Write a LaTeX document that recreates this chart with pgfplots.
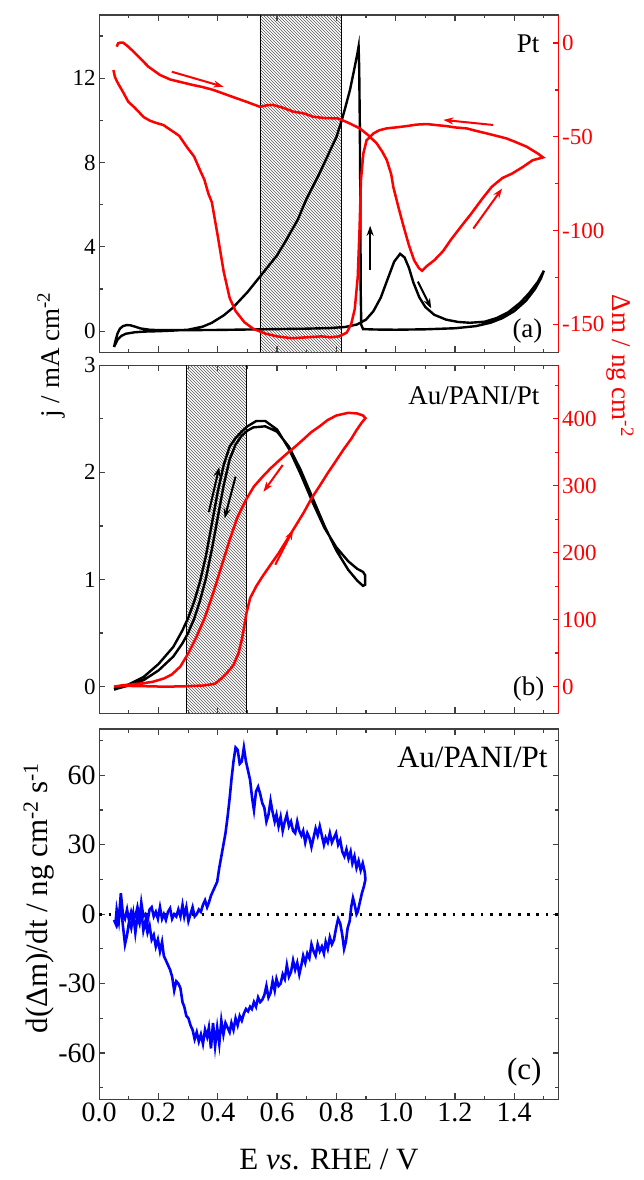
\documentclass[border=0pt]{standalone}
\usepackage{fontspec}
\setmainfont{Liberation Serif}
\usepackage{pgfplots}
\pgfplotsset{compat=1.18}
\usetikzlibrary{patterns,arrows.meta}

\pgfplotstableread{
x y
0.050 -0.75
0.055 -0.45
0.062 -0.10
0.070 0.12
0.080 0.24
0.092 0.29
0.105 0.28
0.120 0.22
0.140 0.13
0.170 0.07
0.200 0.05
0.300 0.05
0.400 0.06
0.500 0.08
0.600 0.10
0.700 0.12
0.780 0.15
0.830 0.20
0.870 0.32
0.900 0.55
0.925 0.95
0.950 1.60
0.975 2.55
0.995 3.30
1.015 3.67
1.030 3.50
1.045 3.00
1.060 2.30
1.080 1.60
1.100 1.15
1.130 0.78
1.170 0.55
1.210 0.44
1.250 0.40
1.300 0.45
1.340 0.62
1.380 0.90
1.420 1.35
1.450 1.80
1.480 2.35
1.500 2.87
1.490 2.50
1.470 2.00
1.440 1.45
1.400 0.95
1.360 0.62
1.320 0.40
1.270 0.24
1.200 0.14
1.100 0.09
1.000 0.07
0.930 0.08
0.890 0.10
0.884 0.30
0.882 2.00
0.881 6.00
0.879 10.0
0.877 12.5
0.875 13.5
0.870 13.1
0.860 12.4
0.846 11.45
0.830 10.6
0.818 10.0
0.800 9.20
0.770 8.30
0.740 7.40
0.700 6.30
0.670 5.30
0.630 4.30
0.600 3.60
0.560 2.90
0.520 2.20
0.500 1.85
0.450 1.10
0.420 0.75
0.380 0.40
0.350 0.22
0.300 0.07
0.250 0.03
0.200 0.00
0.150 -0.02
0.120 -0.05
0.090 -0.12
0.075 -0.22
0.062 -0.40
0.050 -0.75
}\ptj

\pgfplotstableread{
x y
0.059 -1.9
0.064 -0.1
0.072 0.3
0.081 0.2
0.095 -1.5
0.110 -3.7
0.138 -8.1
0.166 -12.6
0.205 -17.0
0.239 -19.4
0.280 -21.0
0.317 -22.4
0.350 -23.5
0.385 -25.0
0.420 -27.0
0.464 -29.5
0.500 -31.5
0.542 -34.0
0.565 -33.2
0.587 -33.0
0.620 -34.5
0.655 -36.6
0.690 -37.5
0.722 -39.3
0.760 -40.0
0.806 -40.2
0.840 -42.5
0.879 -45.5
0.910 -49.5
0.936 -53.5
0.955 -58.0
0.970 -62.4
0.985 -70.0
0.992 -76.7
1.010 -88.0
1.027 -98.0
1.045 -108.0
1.062 -115.8
1.078 -120.0
1.089 -121.5
1.105 -119.0
1.131 -115.8
1.160 -111.0
1.186 -105.0
1.220 -98.0
1.255 -91.0
1.290 -83.5
1.324 -76.7
1.360 -72.0
1.393 -69.6
1.430 -66.0
1.462 -62.5
1.497 -61.0
1.480 -59.0
1.442 -55.3
1.400 -52.5
1.374 -50.9
1.340 -49.5
1.307 -48.2
1.270 -46.8
1.239 -45.5
1.200 -45.0
1.172 -44.3
1.140 -43.8
1.105 -43.2
1.070 -43.5
1.037 -44.3
1.000 -45.0
0.970 -45.5
0.945 -46.5
0.925 -48.2
0.902 -51.8
0.891 -58.9
0.883 -73.0
0.878 -100.0
0.872 -125.0
0.862 -142.0
0.850 -150.0
0.835 -154.5
0.810 -156.5
0.780 -157.0
0.750 -156.5
0.700 -157.0
0.650 -157.5
0.600 -156.5
0.560 -155.0
0.520 -152.5
0.490 -149.0
0.460 -143.0
0.440 -136.0
0.420 -122.0
0.400 -103.0
0.380 -85.0
0.368 -80.2
0.355 -73.0
0.340 -67.8
0.320 -60.5
0.295 -55.3
0.270 -49.5
0.250 -47.3
0.216 -43.7
0.190 -42.5
0.171 -41.4
0.150 -39.5
0.138 -37.5
0.120 -34.5
0.098 -31.3
0.080 -26.0
0.070 -23.3
0.060 -20.5
0.053 -18.0
0.048 -14.4
}\ptm

\pgfplotstableread{
x y
0.050 -0.02
0.080 0.00
0.100 0.02
0.150 0.09
0.200 0.21
0.250 0.37
0.280 0.52
0.300 0.64
0.320 0.79
0.340 0.98
0.360 1.22
0.380 1.52
0.400 1.82
0.420 2.07
0.440 2.24
0.460 2.32
0.480 2.38
0.500 2.43
0.530 2.48
0.560 2.48
0.600 2.40
0.640 2.22
0.680 1.98
0.720 1.72
0.760 1.48
0.800 1.30
0.840 1.17
0.870 1.10
0.890 1.07
0.897 1.04
0.897 0.95
0.890 0.94
0.870 0.99
0.840 1.09
0.800 1.27
0.760 1.50
0.720 1.76
0.680 2.02
0.640 2.24
0.600 2.38
0.560 2.43
0.520 2.42
0.500 2.39
0.480 2.34
0.460 2.26
0.440 2.12
0.420 1.88
0.400 1.58
0.380 1.28
0.360 1.01
0.340 0.80
0.320 0.63
0.300 0.50
0.280 0.40
0.250 0.28
0.200 0.15
0.150 0.06
0.100 0.01
0.060 -0.02
0.050 -0.03
}\panij

\pgfplotstableread{
x y
0.050 0.0
0.080 1.0
0.150 0.5
0.200 0.0
0.250 0.0
0.300 0.5
0.350 1.5
0.390 4.0
0.412 12.0
0.430 20.0
0.453 32.0
0.470 50.0
0.481 70.0
0.490 92.0
0.497 110.0
0.509 132.0
0.530 150.0
0.550 164.0
0.578 182.0
0.605 199.0
0.633 219.0
0.661 239.0
0.690 260.0
0.716 281.0
0.744 300.0
0.771 319.0
0.800 338.0
0.827 356.0
0.850 370.0
0.868 383.0
0.885 394.0
0.898 401.0
0.890 405.0
0.870 408.0
0.840 409.0
0.800 405.0
0.770 398.0
0.744 389.0
0.715 380.0
0.688 369.0
0.660 358.0
0.633 348.0
0.605 337.0
0.578 326.0
0.550 313.0
0.522 299.0
0.495 279.0
0.467 254.0
0.440 219.0
0.412 179.0
0.384 139.0
0.357 104.0
0.329 75.0
0.301 50.0
0.274 30.0
0.245 18.0
0.218 12.0
0.180 7.0
0.149 5.0
0.110 3.0
0.080 2.0
0.053 0.0
}\panim

\pgfplotstableread{
x y
0.050 -2.5
0.055 -4
0.059 2
0.066 -3
0.073 9
0.080 0
0.087 -2
0.094 2
0.101 -3
0.108 1
0.115 -2
0.122 -1
0.129 3
0.136 -2
0.142 5
0.149 -1
0.156 0
0.163 -3
0.170 2
0.177 3
0.184 -1
0.191 1
0.198 -2
0.205 3
0.212 -2
0.218 0
0.225 -2.5
0.232 1
0.239 2.5
0.246 -2
0.253 0
0.260 -1
0.267 2
0.274 -1
0.281 4
0.287 -1
0.294 3
0.301 -3
0.308 0
0.315 3
0.322 -1
0.329 0
0.336 2
0.343 1
0.350 4
0.357 6
0.364 3
0.370 5
0.377 8
0.384 10
0.391 12
0.398 14
0.405 20
0.412 25
0.419 30
0.426 35
0.433 42
0.440 50
0.446 58
0.453 66
0.460 72
0.467 71
0.474 65
0.481 66
0.488 72
0.495 66
0.502 62
0.509 58
0.516 50
0.522 45
0.529 53
0.536 55
0.543 52
0.550 48
0.557 46
0.564 40
0.571 43
0.578 49
0.585 44
0.592 40
0.598 43
0.605 38
0.612 42
0.619 36
0.626 40
0.633 43
0.640 38
0.647 40
0.654 36
0.661 35
0.668 40
0.675 36
0.682 34
0.688 36
0.695 31
0.702 35
0.709 33
0.716 29
0.723 33
0.730 37
0.737 34
0.744 38
0.751 34
0.758 30
0.764 33
0.771 31
0.778 35
0.785 31
0.792 33
0.799 35
0.806 30
0.813 32
0.820 27
0.827 25
0.834 28
0.841 24
0.848 27
0.854 22
0.861 25
0.868 20
0.875 23
0.882 19
0.889 22
0.896 18
0.898 15
0.893 12
0.886 9
0.879 5
0.872 1
0.868 0
0.862 4
0.856 7
0.850 3
0.845 -3
0.838 -6
0.832 -12
0.826 -15
0.820 -9
0.813 -4
0.806 -2
0.799 -6
0.792 -11
0.785 -13
0.778 -10
0.771 -15
0.764 -12
0.758 -17
0.751 -14
0.744 -16
0.737 -13
0.730 -18
0.723 -16
0.716 -13
0.709 -19
0.702 -17
0.695 -21
0.688 -18
0.682 -22
0.675 -26
0.668 -21
0.661 -24
0.654 -20
0.647 -25
0.640 -27
0.633 -22
0.626 -28
0.619 -26
0.612 -30
0.605 -31
0.598 -28
0.592 -33
0.585 -29
0.578 -34
0.571 -36
0.564 -31
0.557 -35
0.550 -37
0.543 -38
0.536 -36
0.529 -40
0.522 -38
0.515 -41
0.509 -40
0.502 -42
0.495 -41
0.488 -43
0.481 -46
0.474 -44
0.467 -48
0.460 -45
0.453 -50
0.446 -47
0.440 -51
0.433 -49
0.426 -47
0.419 -52
0.412 -46
0.405 -56
0.398 -49
0.391 -57
0.384 -47
0.377 -58
0.370 -49
0.364 -53
0.357 -50
0.350 -56
0.343 -52
0.336 -55
0.329 -51
0.322 -54
0.315 -50
0.308 -48
0.301 -45
0.294 -44
0.287 -40
0.281 -38
0.274 -32
0.267 -30
0.260 -29
0.253 -33
0.246 -27
0.239 -24
0.232 -22
0.225 -20
0.218 -18
0.212 -12
0.205 -16
0.198 -11
0.191 -14
0.184 -9
0.177 -11
0.170 -5
0.163 -8
0.156 -3
0.149 -7
0.142 2
0.136 -4
0.129 -1
0.122 -8
0.115 0
0.108 -6
0.101 -3
0.094 -9
0.087 -13
0.080 -5
0.073 4
0.066 -2
0.059 -5
0.052 -3
}\dmdt

\pgfplotsset{
  base/.style={
    scale only axis, width=459.5pt, xmin=0, xmax=1.55,
    xtick={0,0.2,0.4,0.6,0.8,1.0,1.2,1.4},
    minor xtick={0.1,0.3,0.5,0.7,0.9,1.1,1.3,1.5},
    tick align=inside, major tick length=6pt, minor tick length=3.5pt,
    axis line style={line width=1.3pt, black!75},
    tick style={line width=1.2pt, black!75},
    ticklabel style={font=\fontsize{23}{26}\selectfont},
    anchor=south west,
  },
  arr/.style={line width=2pt, -{Stealth[length=10pt,width=7pt]}},
}

\begin{document}
\begin{tikzpicture}[x=1pt,y=1pt]
\useasboundingbox (0,0) rectangle (643,1180);

% ---------------- panel (a)
\begin{axis}[base, at={(99.2pt,827.7pt)}, height=337.3pt,
  ymin=-1, ymax=15, ytick={0,4,8,12}, minor ytick={2,6,10,14},
  yticklabels={0,4,8,12}, xticklabels={}, ytick pos=left]
\addplot[draw=none, pattern=north west lines, pattern color=black!65]
  coordinates {(0.542,-1) (0.818,-1) (0.818,15) (0.542,15)} -- cycle;
\addplot[black, line width=0.7pt] coordinates {(0.542,-1) (0.542,15)};
\addplot[black, line width=0.7pt] coordinates {(0.818,-1) (0.818,15)};
\addplot[black, line width=2.4pt] table {\ptj};
\addplot[black, arr] coordinates {(0.914,2.9) (0.914,5.0)};
\addplot[black, arr] coordinates {(1.075,2.35) (1.12,1.08)};
\end{axis}
\begin{axis}[base, at={(99.2pt,827.7pt)}, height=337.3pt,
  ymin=-165, ymax=15, axis x line=none, axis y line*=right,
  ytick={-150,-100,-50,0}, minor ytick={-125,-75,-25},
  yticklabels={-150,-100,-50,0},
  y axis line style={red, line width=1.3pt},
  ytick style={red, line width=1.2pt},
  every minor tick/.append style={red},
  yticklabel style={red}]
\addplot[red, line width=2.5pt] table {\ptm};
\addplot[red, arr] coordinates {(0.245,-15.3) (0.419,-23.3)};
\addplot[red, arr] coordinates {(1.329,-43.7) (1.161,-41.0)};
\addplot[red, arr] coordinates {(1.262,-99) (1.359,-77.6)};
\end{axis}

% ---------------- panel (b)
\begin{axis}[base, at={(99.2pt,466.7pt)}, height=348pt,
  ymin=-0.25, ymax=3, ytick={0,1,2,3}, minor ytick={0.5,1.5,2.5},
  yticklabels={0,1,2,3}, xticklabels={}, ytick pos=left]
\addplot[draw=none, pattern=north west lines, pattern color=black!65]
  coordinates {(0.295,-0.25) (0.498,-0.25) (0.498,3) (0.295,3)} -- cycle;
\addplot[black, line width=0.7pt] coordinates {(0.295,-0.25) (0.295,3)};
\addplot[black, line width=0.7pt] coordinates {(0.498,-0.25) (0.498,3)};
\addplot[black, line width=2.4pt] table {\panij};
\addplot[black, arr] coordinates {(0.370,1.63) (0.405,2.05)};
\addplot[black, arr] coordinates {(0.460,1.96) (0.423,1.57)};
\end{axis}
\begin{axis}[base, at={(99.2pt,466.7pt)}, height=348pt,
  ymin=-40, ymax=480, axis x line=none, axis y line*=right,
  ytick={0,100,200,300,400}, minor ytick={50,150,250,350,450},
  yticklabels={0,100,200,300,400},
  y axis line style={red, line width=1.3pt},
  ytick style={red, line width=1.2pt},
  every minor tick/.append style={red},
  yticklabel style={red}]
\addplot[red, line width=2.5pt] table {\panim};
\addplot[red, arr] coordinates {(0.619,331) (0.554,291)};
\addplot[red, arr] coordinates {(0.594,182) (0.654,234)};
\end{axis}

% ---------------- panel (c)
\begin{axis}[base, at={(99.2pt,80.7pt)}, height=370.3pt,
  ymin=-80, ymax=80, ytick={-60,-30,0,30,60}, minor ytick={-75,-45,-15,15,45,75},
  yticklabels={-60,-30,0,30,60},
  xticklabels={0.0,0.2,0.4,0.6,0.8,1.0,1.2,1.4},
  ticklabel style={font=\fontsize{28}{30}\selectfont}]
\addplot[black, line width=2.8pt, dash pattern=on 2.8pt off 6.5pt] coordinates {(0,0) (1.55,0)};
\addplot[blue, line width=2.6pt] table {\dmdt};
\end{axis}

% ---------------- text
\node[anchor=base east, font=\fontsize{27}{30}\selectfont] at (543,1127) {Pt};
\node[anchor=east, font=\fontsize{27}{30}\selectfont] at (546,849) {(a)};
\node[anchor=base east, font=\fontsize{27}{30}\selectfont] at (543,775) {Au/PANI/Pt};
\node[anchor=east, font=\fontsize{27}{30}\selectfont] at (548,491) {(b)};
\node[anchor=base east, font=\fontsize{31}{34}\selectfont] at (551,412) {Au/PANI/Pt};
\node[anchor=east, font=\fontsize{31}{34}\selectfont] at (545,107.5) {(c)};

\node[rotate=90, anchor=base, font=\fontsize{27}{30}\selectfont] at (59,825) {j / mA cm\textsuperscript{-2}};
\node[rotate=-90, anchor=base, red, font=\fontsize{27}{30}\selectfont] at (612,814) {Δm / ng cm\textsuperscript{-2}};
\node[rotate=90, anchor=base, font=\fontsize{31}{34}\selectfont] at (47,282) {d(Δm)/dt / ng cm\textsuperscript{-2} s\textsuperscript{-1}};
\node[anchor=base, font=\fontsize{31}{34}\selectfont] at (329,10) {E \textit{vs}. RHE / V};
\end{tikzpicture}
\end{document}
